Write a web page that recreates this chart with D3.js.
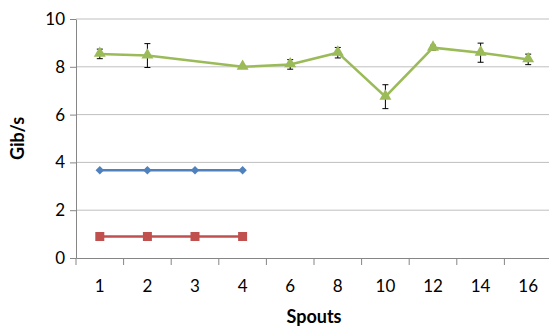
<!DOCTYPE html>
<meta charset="utf-8">
<script src="https://d3js.org/d3.v7.min.js"></script>
<style>
  body { margin: 0; background: #fff; }
  text { font-family: Lato, "Open Sans", sans-serif; }
</style>
<body>
<div id="chart"></div>
<script>
// data
var spouts = ["1", "2", "3", "4", "6", "8", "10", "12", "14", "16"];
var blueVals = [3.67, 3.67, 3.67, 3.67];
var redVals = [0.9, 0.9, 0.9, 0.9];
var greenVals = [8.54, 8.47, 8.0, 8.1, 8.59, 6.75, 8.8, 8.59, 8.31];
var greenErr = [0.2, 0.5, 0.05, 0.2, 0.22, 0.5, 0.1, 0.4, 0.22];
var greenX = ["1", "2", "4", "6", "8", "10", "12", "14", "16"];
var yTicks = [0, 2, 4, 6, 8, 10];

var W = 549, H = 327;
var margin = { top: 19, right: -3, bottom: 69, left: 76 };
var width = W - margin.left - margin.right,
    height = H - margin.top - margin.bottom;

var svg = d3.select("#chart").append("svg")
  .attr("width", W).attr("height", H)
  .append("g")
  .attr("transform", "translate(" + margin.left + "," + margin.top + ")");

var x = d3.scaleBand().domain(spouts).range([0, width]);
var y = d3.scaleLinear().domain([0, 10]).range([height, 0]);
var cx = function (k) { return x(k) + x.bandwidth() / 2; };

// gridlines
svg.append("g").selectAll("line")
  .data(yTicks.slice(1))
  .enter().append("line")
  .attr("x1", 0).attr("x2", width)
  .attr("y1", function (d) { return y(d); })
  .attr("y2", function (d) { return y(d); })
  .attr("stroke", "#bfbfbf").attr("stroke-width", 1);

// y axis
var yAxis = svg.append("g")
  .call(d3.axisLeft(y).tickValues(yTicks).tickSize(6).tickSizeOuter(0).tickPadding(5));
yAxis.select(".domain").attr("stroke", "#868686");
yAxis.selectAll(".tick line").attr("stroke", "#868686");
yAxis.selectAll("text").attr("font-size", "17px").attr("fill", "#000");

// x axis
var xAxis = svg.append("g")
  .attr("transform", "translate(0," + height + ")")
  .call(d3.axisBottom(x).tickSize(0).tickPadding(22));
xAxis.select(".domain").attr("stroke", "#868686");
xAxis.selectAll("text").attr("font-size", "17px").attr("fill", "#000");
xAxis.append("g").selectAll("line")
  .data(spouts)
  .enter().append("line")
  .attr("x1", function (d) { return x(d); })
  .attr("x2", function (d) { return x(d); })
  .attr("y1", 0).attr("y2", 7)
  .attr("stroke", "#868686");

// axis titles
svg.append("text")
  .attr("transform", "translate(" + (18 - margin.left) + "," + (height / 2) + ") rotate(-90)")
  .attr("text-anchor", "middle").attr("dy", "0.35em")
  .attr("font-size", "18px").attr("font-weight", "bold")
  .text("Gib/s");
svg.append("text")
  .attr("x", 314 - margin.left).attr("y", 317 - margin.top)
  .attr("text-anchor", "middle").attr("dy", "0.35em")
  .attr("font-size", "18px").attr("font-weight", "bold")
  .text("Spouts");

var line = d3.line()
  .x(function (d) { return cx(d.k); })
  .y(function (d) { return y(d.v); });

function pts(keys, vals) {
  return vals.map(function (v, i) { return { k: keys[i], v: v }; });
}

// red series
var red = pts(spouts, redVals);
svg.append("path").datum(red).attr("d", line)
  .attr("fill", "none").attr("stroke", "#c0504d").attr("stroke-width", 2.5);
svg.append("g").selectAll("rect").data(red).enter().append("rect")
  .attr("x", function (d) { return cx(d.k) - 4.5; })
  .attr("y", function (d) { return y(d.v) - 4.5; })
  .attr("width", 9).attr("height", 9)
  .attr("fill", "#c0504d");

// blue series
var blue = pts(spouts, blueVals);
svg.append("path").datum(blue).attr("d", line)
  .attr("fill", "none").attr("stroke", "#4f81bd").attr("stroke-width", 2.5);
svg.append("g").selectAll("path").data(blue).enter().append("path")
  .attr("d", d3.symbol().type(d3.symbolSquare).size(36))
  .attr("transform", function (d) { return "translate(" + cx(d.k) + "," + y(d.v) + ") rotate(45)"; })
  .attr("fill", "#4f81bd");

// green series
var green = greenVals.map(function (v, i) { return { k: greenX[i], v: v, e: greenErr[i] }; });

// error bars (behind the markers)
var eb = svg.append("g").attr("stroke", "#000").attr("stroke-width", 1);
green.forEach(function (d) {
  var X = cx(d.k), y1 = y(d.v + d.e), y2 = y(d.v - d.e);
  eb.append("line").attr("x1", X).attr("x2", X).attr("y1", y1).attr("y2", y2);
  eb.append("line").attr("x1", X - 3).attr("x2", X + 3).attr("y1", y1).attr("y2", y1);
  eb.append("line").attr("x1", X - 3).attr("x2", X + 3).attr("y1", y2).attr("y2", y2);
});

svg.append("path").datum(green).attr("d", line)
  .attr("fill", "none").attr("stroke", "#9bbb59").attr("stroke-width", 2.5);
svg.append("g").selectAll("path").data(green).enter().append("path")
  .attr("d", d3.symbol().type(d3.symbolTriangle).size(62))
  .attr("transform", function (d) { return "translate(" + cx(d.k) + "," + (y(d.v) - 0.5) + ")"; })
  .attr("fill", "#9bbb59");
</script>
</body>
